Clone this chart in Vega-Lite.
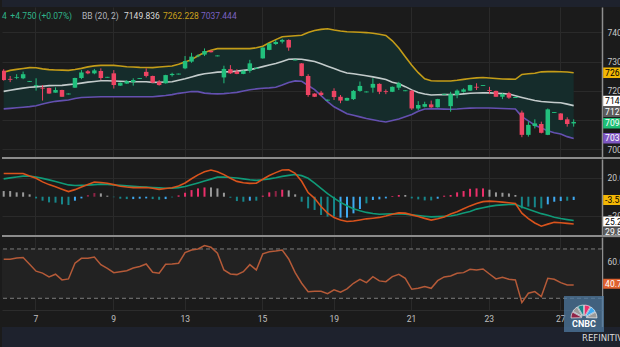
{
"$schema":"https://vega.github.io/schema/vega-lite/v6.json",
"padding":0,
"background":"#1b1b1b",
"bounds":"flush",
"spacing":0,
"config":{"view":{"stroke":null},"text":{"font":"Roboto"},"axis":{"labelFont":"Roboto"},"scale":{"continuousPadding":0}},
"datasets":{
"candles":[
{"i":0,"o":7269,"h":7274,"l":7235,"c":7237,"ub":7263.4,"mb":7198.5,"lb":7138.7,"m1":24.6,"m2":18.9,"hist":6.0,"hs":"fall","rsi":61.6},
{"i":1,"o":7241,"h":7251,"l":7230,"c":7238,"ub":7270.0,"mb":7202.5,"lb":7140.5,"m1":24.6,"m2":19.9,"hist":6.0,"hs":"fall","rsi":61.6},
{"i":2,"o":7244,"h":7257,"l":7240,"c":7247,"ub":7273.5,"mb":7206.2,"lb":7142.4,"m1":24.6,"m2":20.9,"hist":4.6,"hs":"fall","rsi":62.7},
{"i":3,"o":7243,"h":7266,"l":7240,"c":7257,"ub":7276.5,"mb":7209.5,"lb":7144.3,"m1":24.6,"m2":21.8,"hist":4.6,"hs":"fall","rsi":63.0},
{"i":4,"o":7231,"h":7234,"l":7231,"c":7234,"ub":7279.3,"mb":7212.3,"lb":7146.4,"m1":21.9,"m2":21.8,"hist":2.5,"hs":"fall","rsi":57.6},
{"i":5,"o":7217,"h":7243,"l":7201,"c":7220,"ub":7278.9,"mb":7213.9,"lb":7149.2,"m1":19.5,"m2":20.8,"hist":-1.8,"hs":"drop","rsi":52.0},
{"i":6,"o":7211,"h":7220,"l":7167,"c":7208,"ub":7275.1,"mb":7215.8,"lb":7155.1,"m1":15.7,"m2":19.4,"hist":-4.2,"hs":"drop","rsi":50.4},
{"i":7,"o":7210,"h":7211,"l":7190,"c":7191,"ub":7272.8,"mb":7217.9,"lb":7160.5,"m1":12.8,"m2":17.8,"hist":-6.0,"hs":"drop","rsi":47.3},
{"i":8,"o":7194,"h":7212,"l":7194,"c":7203,"ub":7271.3,"mb":7218.4,"lb":7164.4,"m1":10.5,"m2":16.0,"hist":-6.3,"hs":"drop","rsi":49.5},
{"i":9,"o":7203,"h":7204,"l":7180,"c":7180,"ub":7270.8,"mb":7219.0,"lb":7166.7,"m1":7.9,"m2":14.3,"hist":-8.1,"hs":"drop","rsi":44.9},
{"i":10,"o":7188,"h":7191,"l":7188,"c":7191,"ub":7270.2,"mb":7221.3,"lb":7168.8,"m1":5.4,"m2":12.5,"hist":-8.8,"hs":"drop","rsi":45.7},
{"i":11,"o":7211,"h":7245,"l":7210,"c":7244,"ub":7273.1,"mb":7223.4,"lb":7174.0,"m1":7.5,"m2":11.8,"hist":-4.2,"hs":"recover","rsi":58.4},
{"i":12,"o":7244,"h":7271,"l":7240,"c":7263,"ub":7276.9,"mb":7226.6,"lb":7177.3,"m1":10.3,"m2":12.0,"hist":-1.8,"hs":"recover","rsi":62.4},
{"i":13,"o":7267,"h":7271,"l":7257,"c":7260,"ub":7282.0,"mb":7229.9,"lb":7178.3,"m1":12.9,"m2":12.3,"hist":1.8,"hs":"rise2","rsi":62.4},
{"i":14,"o":7260,"h":7275,"l":7257,"c":7270,"ub":7285.3,"mb":7232.3,"lb":7179.2,"m1":15.5,"m2":12.8,"hist":3.9,"hs":"rise2","rsi":63.5},
{"i":15,"o":7268,"h":7277,"l":7237,"c":7244,"ub":7287.3,"mb":7234.6,"lb":7180.2,"m1":15.1,"m2":13.3,"hist":3.5,"hs":"fall","rsi":57.3},
{"i":16,"o":7245,"h":7248,"l":7245,"c":7248,"ub":7287.3,"mb":7234.5,"lb":7180.3,"m1":14.2,"m2":12.9,"hist":1.1,"hs":"fall","rsi":54.3},
{"i":17,"o":7260,"h":7271,"l":7208,"c":7220,"ub":7287.3,"mb":7233.9,"lb":7180.3,"m1":12.8,"m2":12.4,"hist":-0.5,"hs":"drop","rsi":50.8},
{"i":18,"o":7218,"h":7229,"l":7217,"c":7228,"ub":7285.0,"mb":7233.0,"lb":7180.3,"m1":11.0,"m2":12.0,"hist":-2.1,"hs":"drop","rsi":51.6},
{"i":19,"o":7225,"h":7237,"l":7224,"c":7233,"ub":7282.5,"mb":7231.9,"lb":7180.3,"m1":10.2,"m2":11.5,"hist":-2.5,"hs":"drop","rsi":52.3},
{"i":20,"o":7230,"h":7243,"l":7218,"c":7237,"ub":7281.5,"mb":7231.5,"lb":7180.3,"m1":9.6,"m2":11.0,"hist":-2.5,"hs":"recover","rsi":54.5},
{"i":21,"o":7241,"h":7244,"l":7241,"c":7244,"ub":7280.3,"mb":7231.5,"lb":7180.3,"m1":9.6,"m2":10.6,"hist":-2.1,"hs":"recover","rsi":55.8},
{"i":22,"o":7265,"h":7277,"l":7246,"c":7251,"ub":7279.8,"mb":7231.1,"lb":7180.3,"m1":9.8,"m2":10.2,"hist":-1.8,"hs":"recover","rsi":57.8},
{"i":23,"o":7251,"h":7252,"l":7227,"c":7228,"ub":7279.5,"mb":7229.2,"lb":7180.3,"m1":9.0,"m2":9.8,"hist":-2.5,"hs":"drop","rsi":51.1},
{"i":24,"o":7231,"h":7237,"l":7218,"c":7220,"ub":7281.4,"mb":7229.4,"lb":7182.1,"m1":7.8,"m2":9.4,"hist":-3.2,"hs":"drop","rsi":50.3},
{"i":25,"o":7226,"h":7255,"l":7225,"c":7254,"ub":7283.2,"mb":7230.4,"lb":7184.1,"m1":8.7,"m2":9.0,"hist":-2.5,"hs":"recover","rsi":57.6},
{"i":26,"o":7254,"h":7262,"l":7249,"c":7258,"ub":7285.1,"mb":7231.5,"lb":7187.2,"m1":9.5,"m2":9.1,"hist":-0.7,"hs":"drop","rsi":57.8},
{"i":27,"o":7256,"h":7259,"l":7256,"c":7259,"ub":7291.0,"mb":7236.6,"lb":7191.7,"m1":11.4,"m2":9.6,"hist":1.4,"hs":"rise","rsi":58.4},
{"i":28,"o":7277,"h":7319,"l":7274,"c":7302,"ub":7298.3,"mb":7241.7,"lb":7194.8,"m1":14.5,"m2":10.8,"hist":4.2,"hs":"rise","rsi":67.0},
{"i":29,"o":7300,"h":7330,"l":7296,"c":7317,"ub":7306.7,"mb":7247.7,"lb":7198.2,"m1":19.0,"m2":12.7,"hist":7.0,"hs":"rise","rsi":69.2},
{"i":30,"o":7318,"h":7325,"l":7315,"c":7321,"ub":7320.0,"mb":7253.8,"lb":7197.5,"m1":23.1,"m2":14.6,"hist":8.8,"hs":"rise","rsi":70.0},
{"i":31,"o":7324,"h":7345,"l":7319,"c":7336,"ub":7331.2,"mb":7258.7,"lb":7192.4,"m1":26.4,"m2":16.6,"hist":9.8,"hs":"rise","rsi":72.7},
{"i":32,"o":7337,"h":7338,"l":7331,"c":7332,"ub":7339.0,"mb":7261.3,"lb":7190.8,"m1":28.2,"m2":18.6,"hist":9.8,"hs":"fall","rsi":71.4},
{"i":33,"o":7318,"h":7321,"l":7318,"c":7321,"ub":7344.2,"mb":7264.2,"lb":7189.7,"m1":26.4,"m2":20.7,"hist":8.8,"hs":"fall","rsi":66.5},
{"i":34,"o":7246,"h":7286,"l":7226,"c":7275,"ub":7344.2,"mb":7265.0,"lb":7190.8,"m1":23.4,"m2":20.9,"hist":4.2,"hs":"fall","rsi":53.0},
{"i":35,"o":7274,"h":7288,"l":7258,"c":7260,"ub":7344.2,"mb":7265.5,"lb":7192.6,"m1":19.5,"m2":20.3,"hist":-1.1,"hs":"drop","rsi":49.7},
{"i":36,"o":7266,"h":7274,"l":7257,"c":7258,"ub":7344.2,"mb":7267.6,"lb":7195.1,"m1":16.2,"m2":19.8,"hist":-4.6,"hs":"drop","rsi":49.2},
{"i":37,"o":7258,"h":7270,"l":7257,"c":7269,"ub":7344.2,"mb":7270.2,"lb":7199.4,"m1":14.8,"m2":18.9,"hist":-5.3,"hs":"drop","rsi":51.6},
{"i":38,"o":7269,"h":7306,"l":7262,"c":7294,"ub":7344.2,"mb":7272.7,"lb":7203.9,"m1":14.1,"m2":18.0,"hist":-4.2,"hs":"recover","rsi":57.3},
{"i":39,"o":7276,"h":7279,"l":7276,"c":7279,"ub":7347.1,"mb":7277.3,"lb":7206.8,"m1":14.3,"m2":17.3,"hist":-4.2,"hs":"drop","rsi":53.0},
{"i":40,"o":7311,"h":7349,"l":7310,"c":7348,"ub":7352.5,"mb":7282.8,"lb":7209.0,"m1":18.5,"m2":18.0,"hist":1.1,"hs":"rise","rsi":66.0},
{"i":41,"o":7340,"h":7363,"l":7339,"c":7362,"ub":7364.3,"mb":7288.3,"lb":7210.5,"m1":22.4,"m2":18.9,"hist":4.6,"hs":"rise","rsi":67.8},
{"i":42,"o":7360,"h":7374,"l":7357,"c":7367,"ub":7375.1,"mb":7293.5,"lb":7212.6,"m1":25.5,"m2":20.1,"hist":6.0,"hs":"rise2","rsi":68.4},
{"i":43,"o":7368,"h":7378,"l":7362,"c":7374,"ub":7385.1,"mb":7300.4,"lb":7220.1,"m1":28.3,"m2":21.5,"hist":7.4,"hs":"rise","rsi":69.2},
{"i":44,"o":7374,"h":7376,"l":7337,"c":7348,"ub":7386.6,"mb":7307.8,"lb":7228.8,"m1":28.5,"m2":22.6,"hist":6.7,"hs":"fall","rsi":61.9},
{"i":45,"o":7304,"h":7307,"l":7304,"c":7307,"ub":7388.5,"mb":7308.9,"lb":7234.1,"m1":24.7,"m2":23.5,"hist":2.5,"hs":"fall","rsi":50.8},
{"i":46,"o":7294,"h":7295,"l":7250,"c":7251,"ub":7390.2,"mb":7308.3,"lb":7232.7,"m1":16.3,"m2":22.3,"hist":-5.3,"hs":"drop","rsi":42.2},
{"i":47,"o":7251,"h":7257,"l":7180,"c":7186,"ub":7399.1,"mb":7304.1,"lb":7218.6,"m1":4.4,"m2":19.5,"hist":-12.3,"hs":"drop","rsi":35.4},
{"i":48,"o":7191,"h":7192,"l":7179,"c":7180,"ub":7406.0,"mb":7300.2,"lb":7204.6,"m1":-1.7,"m2":14.3,"hist":-14.0,"hs":"drop","rsi":35.7},
{"i":49,"o":7194,"h":7200,"l":7183,"c":7186,"ub":7409.9,"mb":7292.5,"lb":7184.0,"m1":-10.4,"m2":8.8,"hist":-19.3,"hs":"drop","rsi":35.7},
{"i":50,"o":7167,"h":7170,"l":7167,"c":7170,"ub":7412.1,"mb":7284.3,"lb":7163.7,"m1":-17.3,"m2":3.2,"hist":-21.1,"hs":"drop","rsi":33.8},
{"i":51,"o":7200,"h":7209,"l":7169,"c":7179,"ub":7408.0,"mb":7276.1,"lb":7145.9,"m1":-21.9,"m2":-1.5,"hist":-21.1,"hs":"drop","rsi":36.8},
{"i":52,"o":7180,"h":7186,"l":7158,"c":7167,"ub":7404.7,"mb":7268.2,"lb":7134.0,"m1":-24.6,"m2":-6.0,"hist":-22.1,"hs":"recover","rsi":34.9},
{"i":53,"o":7167,"h":7177,"l":7166,"c":7176,"ub":7402.0,"mb":7261.4,"lb":7122.1,"m1":-26.2,"m2":-9.6,"hist":-22.1,"hs":"recover","rsi":37.6},
{"i":54,"o":7172,"h":7203,"l":7169,"c":7200,"ub":7401.0,"mb":7258.3,"lb":7116.7,"m1":-25.7,"m2":-12.7,"hist":-17.6,"hs":"recover","rsi":42.2},
{"i":55,"o":7200,"h":7232,"l":7197,"c":7217,"ub":7400.0,"mb":7255.1,"lb":7111.4,"m1":-24.6,"m2":-14.9,"hist":-13.0,"hs":"recover","rsi":45.4},
{"i":56,"o":7195,"h":7198,"l":7195,"c":7198,"ub":7399.1,"mb":7251.9,"lb":7106.0,"m1":-23.4,"m2":-16.6,"hist":-7.0,"hs":"drop","rsi":42.7},
{"i":57,"o":7211,"h":7243,"l":7194,"c":7224,"ub":7396.7,"mb":7248.0,"lb":7101.5,"m1":-22.7,"m2":-17.7,"hist":-3.5,"hs":"recover","rsi":47.6},
{"i":58,"o":7224,"h":7226,"l":7189,"c":7197,"ub":7393.6,"mb":7243.6,"lb":7097.5,"m1":-21.9,"m2":-18.5,"hist":-2.8,"hs":"recover","rsi":44.1},
{"i":59,"o":7199,"h":7205,"l":7189,"c":7196,"ub":7389.3,"mb":7239.1,"lb":7094.1,"m1":-20.3,"m2":-18.3,"hist":-1.8,"hs":"recover","rsi":43.5},
{"i":60,"o":7197,"h":7215,"l":7196,"c":7214,"ub":7370.9,"mb":7229.8,"lb":7099.0,"m1":-18.5,"m2":-18.1,"hist":0.7,"hs":"rise","rsi":47.6},
{"i":61,"o":7211,"h":7231,"l":7203,"c":7226,"ub":7346.4,"mb":7224.2,"lb":7104.2,"m1":-17.1,"m2":-17.9,"hist":1.8,"hs":"rise","rsi":49.5},
{"i":62,"o":7199,"h":7202,"l":7199,"c":7202,"ub":7316.9,"mb":7214.5,"lb":7112.1,"m1":-17.4,"m2":-18.6,"hist":1.8,"hs":"fall","rsi":46.2},
{"i":63,"o":7201,"h":7203,"l":7135,"c":7140,"ub":7287.7,"mb":7203.5,"lb":7119.7,"m1":-19.2,"m2":-19.2,"hist":-1.8,"hs":"drop","rsi":37.3},
{"i":64,"o":7140,"h":7165,"l":7135,"c":7152,"ub":7262.2,"mb":7194.8,"lb":7130.6,"m1":-21.0,"m2":-19.9,"hist":-2.8,"hs":"drop","rsi":38.1},
{"i":65,"o":7146,"h":7163,"l":7144,"c":7155,"ub":7241.3,"mb":7189.2,"lb":7138.0,"m1":-22.9,"m2":-20.6,"hist":-3.9,"hs":"drop","rsi":39.5},
{"i":66,"o":7154,"h":7167,"l":7142,"c":7144,"ub":7234.5,"mb":7186.2,"lb":7139.1,"m1":-24.7,"m2":-21.3,"hist":-3.9,"hs":"drop","rsi":38.1},
{"i":67,"o":7144,"h":7173,"l":7143,"c":7172,"ub":7233.8,"mb":7186.8,"lb":7138.5,"m1":-23.3,"m2":-21.1,"hist":-2.1,"hs":"recover","rsi":44.3},
{"i":68,"o":7187,"h":7190,"l":7187,"c":7190,"ub":7233.8,"mb":7187.8,"lb":7137.9,"m1":-21.4,"m2":-20.8,"hist":1.1,"hs":"rise","rsi":47.3},
{"i":69,"o":7148,"h":7197,"l":7129,"c":7189,"ub":7233.8,"mb":7187.2,"lb":7137.2,"m1":-18.4,"m2":-20.4,"hist":1.8,"hs":"rise","rsi":48.1},
{"i":70,"o":7186,"h":7205,"l":7175,"c":7201,"ub":7236.2,"mb":7187.7,"lb":7138.2,"m1":-15.8,"m2":-19.0,"hist":4.6,"hs":"rise","rsi":50.3},
{"i":71,"o":7197,"h":7209,"l":7194,"c":7205,"ub":7239.4,"mb":7190.0,"lb":7139.7,"m1":-12.8,"m2":-17.3,"hist":6.0,"hs":"rise","rsi":50.8},
{"i":72,"o":7201,"h":7221,"l":7200,"c":7220,"ub":7242.1,"mb":7191.8,"lb":7141.2,"m1":-9.7,"m2":-15.6,"hist":8.4,"hs":"rise","rsi":53.5},
{"i":73,"o":7214,"h":7226,"l":7203,"c":7211,"ub":7244.4,"mb":7193.0,"lb":7141.6,"m1":-7.2,"m2":-13.1,"hist":8.8,"hs":"rise","rsi":53.0},
{"i":74,"o":7217,"h":7220,"l":7217,"c":7220,"ub":7246.0,"mb":7193.6,"lb":7141.6,"m1":-5.2,"m2":-11.6,"hist":8.8,"hs":"rise","rsi":53.8},
{"i":75,"o":7203,"h":7214,"l":7189,"c":7200,"ub":7244.2,"mb":7193.2,"lb":7141.5,"m1":-4.7,"m2":-10.2,"hist":7.4,"hs":"fall","rsi":49.7},
{"i":76,"o":7200,"h":7201,"l":7180,"c":7180,"ub":7242.3,"mb":7191.9,"lb":7140.7,"m1":-5.0,"m2":-9.2,"hist":4.6,"hs":"fall","rsi":45.7},
{"i":77,"o":7180,"h":7192,"l":7172,"c":7189,"ub":7240.6,"mb":7190.7,"lb":7139.9,"m1":-5.7,"m2":-8.6,"hist":4.2,"hs":"fall","rsi":47.0},
{"i":78,"o":7192,"h":7197,"l":7173,"c":7177,"ub":7240.1,"mb":7189.2,"lb":7139.0,"m1":-6.4,"m2":-8.3,"hist":3.5,"hs":"fall","rsi":45.4},
{"i":79,"o":7176,"h":7179,"l":7176,"c":7179,"ub":7239.7,"mb":7183.3,"lb":7138.2,"m1":-7.2,"m2":-8.0,"hist":1.8,"hs":"fall","rsi":44.9},
{"i":80,"o":7126,"h":7133,"l":7042,"c":7050,"ub":7256.3,"mb":7177.6,"lb":7112.4,"m1":-17.4,"m2":-10.9,"hist":-12.3,"hs":"drop","rsi":26.5},
{"i":81,"o":7050,"h":7095,"l":7044,"c":7084,"ub":7258.4,"mb":7172.1,"lb":7097.7,"m1":-23.1,"m2":-13.3,"hist":-10.5,"hs":"drop","rsi":34.1},
{"i":82,"o":7080,"h":7103,"l":7072,"c":7089,"ub":7260.0,"mb":7167.4,"lb":7082.7,"m1":-27.8,"m2":-15.6,"hist":-11.2,"hs":"drop","rsi":35.4},
{"i":83,"o":7087,"h":7095,"l":7055,"c":7057,"ub":7265.1,"mb":7163.6,"lb":7073.4,"m1":-31.2,"m2":-17.9,"hist":-12.3,"hs":"drop","rsi":31.4},
{"i":84,"o":7050,"h":7140,"l":7049,"c":7137,"ub":7265.7,"mb":7162.1,"lb":7064.3,"m1":-29.0,"m2":-19.7,"hist":-8.1,"hs":"recover","rsi":46.2},
{"i":85,"o":7125,"h":7128,"l":7125,"c":7128,"ub":7265.7,"mb":7160.6,"lb":7057.1,"m1":-27.1,"m2":-21.7,"hist":-5.3,"hs":"recover","rsi":45.4},
{"i":86,"o":7123,"h":7124,"l":7100,"c":7101,"ub":7265.4,"mb":7159.4,"lb":7052.7,"m1":-27.6,"m2":-23.1,"hist":-4.6,"hs":"recover","rsi":42.7},
{"i":87,"o":7103,"h":7110,"l":7078,"c":7087,"ub":7264.5,"mb":7154.8,"lb":7043.9,"m1":-28.2,"m2":-24.2,"hist":-4.2,"hs":"drop","rsi":40.8},
{"i":88,"o":7089,"h":7103,"l":7078,"c":7094,"ub":7262.2,"mb":7149.8,"lb":7037.4,"m1":-28.8,"m2":-25.2,"hist":-3.5,"hs":"recover","rsi":40.7}
],
"plabels":[
{"k":"upper","txt":"7262.228","at":7262.2},
{"k":"mid","txt":"7149.836","at":7165.5},
{"k":"prev","txt":"7127.370","at":7129.0},
{"k":"last","txt":"7094.220","at":7090.0},
{"k":"lower","txt":"7037.444","at":7038.0}
],
"mlabels":[
{"k":"hist","txt":"-3.534","at":-3.5},
{"k":"sig","txt":"25.21","at":-26.3},
{"k":"macd","txt":"29.80","at":-37.7}
],
"rlabels":[
{"k":"rsi","txt":"40.76","at":41.8}
],
"feathers":[
{"f":"yellow","n":1},{"f":"orange","n":1},{"f":"red","n":1},{"f":"purple","n":1},{"f":"blue","n":1},{"f":"green","n":1}
]
},
"vconcat":[
{"width":620,"height":7,"view":{"fill":"#1e222d","stroke":null},"data":{"values":[{}]},"mark":{"type":"point","opacity":0}},
{
"width":600,"height":150,
"layer":[
{"data":{"name":"candles"},"mark":{"type":"area","color":"#152c2b"},
 "encoding":{
  "x":{"field":"i","type":"quantitative","scale":{"domain":[-0.262,92.37],"nice":false,"zero":false,"padding":0},
       "axis":{"values":[4.88,16.88,27.95,39.88,50.95,62.88,74.88,85.93],"tickCount":30,"grid":true,"gridColor":"#2a2a2a","labels":false,"ticks":false,"domain":false,"title":null}},
  "y":{"field":"lb","type":"quantitative","scale":{"domain":[6974.4,7486.4],"nice":false,"zero":false,"padding":0},
       "axis":{"orient":"right","values":[7000,7100,7200,7300,7400],"tickCount":30,"labelExpr":"datum.value==7100?'':format(datum.value,'d')","grid":true,"gridColor":"#2a2a2a","ticks":false,"labels":true,"labelOverlap":false,"domain":true,"domainColor":"#8f8f8f","domainWidth":1.5,"labelColor":"#c8c8c8","labelFontSize":8.5,"labelPadding":5,"title":null}},
  "y2":{"field":"ub"}}},
{"data":{"name":"candles"},"mark":{"type":"line","color":"#c49c18","strokeWidth":1.6},
 "encoding":{"x":{"field":"i","type":"quantitative"},"y":{"field":"ub","type":"quantitative"}}},
{"data":{"name":"candles"},"mark":{"type":"line","color":"#c3cbcb","strokeWidth":1.6},
 "encoding":{"x":{"field":"i","type":"quantitative"},"y":{"field":"mb","type":"quantitative"}}},
{"data":{"name":"candles"},"mark":{"type":"line","color":"#6450b0","strokeWidth":1.6},
 "encoding":{"x":{"field":"i","type":"quantitative"},"y":{"field":"lb","type":"quantitative"}}},
{"data":{"name":"candles"},"mark":{"type":"rule","strokeWidth":1,"clip":true},
 "encoding":{"x":{"field":"i","type":"quantitative"},
  "y":{"field":"l","type":"quantitative"},
  "y2":{"field":"h"},
  "color":{"condition":{"test":"datum.c >= datum.o","value":"#22c07d"},"value":"#ee4463"}}},
{"data":{"name":"candles"},"mark":{"type":"bar","width":4.5,"clip":true},
 "encoding":{"x":{"field":"i","type":"quantitative"},
  "y":{"field":"o","type":"quantitative"},
  "y2":{"field":"c"},
  "color":{"condition":{"test":"datum.c >= datum.o","value":"#22c07d"},"value":"#ee4463"}}},
{"data":{"values":[{}]},"mark":{"type":"text","text":"4","align":"left","baseline":"middle","fontSize":8.5,"color":"#2fb48a"},
 "encoding":{"x":{"datum":-0.262,"type":"quantitative"},"y":{"datum":7455.6,"type":"quantitative"}}},
{"data":{"values":[{}]},"mark":{"type":"text","text":"+4.750 (+0.07%)","align":"left","baseline":"middle","fontSize":8.5,"color":"#2fb48a"},
 "encoding":{"x":{"datum":1.02,"type":"quantitative"},"y":{"datum":7455.6,"type":"quantitative"}}},
{"data":{"values":[{}]},"mark":{"type":"text","text":"BB (20, 2)","align":"left","baseline":"middle","fontSize":8.5,"color":"#b2b5be"},
 "encoding":{"x":{"datum":12.09,"type":"quantitative"},"y":{"datum":7455.6,"type":"quantitative"}}},
{"data":{"values":[{}]},"mark":{"type":"text","text":"7149.836","align":"left","baseline":"middle","fontSize":8.5,"color":"#d8d8d8"},
 "encoding":{"x":{"datum":18.58,"type":"quantitative"},"y":{"datum":7455.6,"type":"quantitative"}}},
{"data":{"values":[{}]},"mark":{"type":"text","text":"7262.228","align":"left","baseline":"middle","fontSize":8.5,"color":"#c9a01c"},
 "encoding":{"x":{"datum":24.6,"type":"quantitative"},"y":{"datum":7455.6,"type":"quantitative"}}},
{"data":{"values":[{}]},"mark":{"type":"text","text":"7037.444","align":"left","baseline":"middle","fontSize":8.5,"color":"#7a62c2"},
 "encoding":{"x":{"datum":30.46,"type":"quantitative"},"y":{"datum":7455.6,"type":"quantitative"}}},
{"data":{"name":"plabels"},"mark":{"type":"rule","strokeWidth":10.5,"strokeCap":"butt"},
 "encoding":{"x":{"datum":92.55,"type":"quantitative"},"x2":{"datum":97.5},
  "y":{"field":"at","type":"quantitative"},
  "stroke":{"field":"k","type":"nominal","scale":{"domain":["upper","mid","prev","last","lower"],"range":["#f2b705","#ffffff","#5c5c5c","#1fbf76","#7e57c2"]},"legend":null}}},
{"data":{"name":"plabels"},"mark":{"type":"text","align":"left","baseline":"middle","fontSize":8.5},
 "encoding":{"x":{"datum":92.85,"type":"quantitative"},
  "y":{"field":"at","type":"quantitative"},
  "text":{"field":"txt"},
  "fill":{"field":"k","type":"nominal","scale":{"domain":["upper","mid","prev","last","lower"],"range":["#000000","#000000","#ffffff","#ffffff","#ffffff"]},"legend":null}}}
]
},
{"width":620,"height":2,"view":{"fill":"#8c8c8c","stroke":null},"data":{"values":[{}]},"mark":{"type":"point","opacity":0}},
{
"width":600,"height":76,
"layer":[
{"data":{"name":"candles"},"mark":{"type":"bar","width":2},
 "encoding":{
  "x":{"field":"i","type":"quantitative","scale":{"domain":[-0.262,92.37],"nice":false,"zero":false,"padding":0},
       "axis":{"values":[4.88,16.88,27.95,39.88,50.95,62.88,74.88,85.93],"tickCount":30,"grid":true,"gridColor":"#2a2a2a","labels":false,"ticks":false,"domain":false,"title":null}},
  "y":{"field":"hist","type":"quantitative","scale":{"domain":[-40.5,39.9],"nice":false,"zero":false,"padding":0},
       "axis":{"orient":"right","values":[20,-20],"tickCount":30,"format":".1f","grid":true,"gridColor":"#2a2a2a","ticks":false,"labels":true,"labelOverlap":false,"domain":true,"domainColor":"#8f8f8f","domainWidth":1.5,"labelColor":"#c8c8c8","labelFontSize":8.5,"labelPadding":5,"title":null}},
  "y2":{"datum":0},
  "color":{"field":"hs","type":"nominal","scale":{"domain":["fall","drop","recover","rise","rise2"],"range":["#9a9a9a","#17868a","#3fa9f0","#ea2f6a","#8e2446"]},"legend":null}}},
{"data":{"name":"candles"},"mark":{"type":"line","color":"#109a78","strokeWidth":1.6},
 "encoding":{"x":{"field":"i","type":"quantitative"},"y":{"field":"m2","type":"quantitative"}}},
{"data":{"name":"candles"},"mark":{"type":"line","color":"#d9531c","strokeWidth":1.6},
 "encoding":{"x":{"field":"i","type":"quantitative"},"y":{"field":"m1","type":"quantitative"}}},
{"data":{"name":"mlabels"},"mark":{"type":"rule","strokeWidth":10,"strokeCap":"butt"},
 "encoding":{"x":{"datum":92.55,"type":"quantitative"},"x2":{"datum":97.5},
  "y":{"field":"at","type":"quantitative"},
  "stroke":{"field":"k","type":"nominal","scale":{"domain":["hist","sig","macd"],"range":["#42b0f5","#12b888","#f25a17"]},"legend":null}}},
{"data":{"name":"mlabels"},"mark":{"type":"text","align":"left","baseline":"middle","fontSize":8.5},
 "encoding":{"x":{"datum":92.85,"type":"quantitative"},
  "y":{"field":"at","type":"quantitative"},
  "text":{"field":"txt"},
  "fill":{"field":"k","type":"nominal","scale":{"domain":["hist","sig","macd"],"range":["#000000","#ffffff","#ffffff"]},"legend":null}}}
]
},
{"width":620,"height":2,"view":{"fill":"#8c8c8c","stroke":null},"data":{"values":[{}]},"mark":{"type":"point","opacity":0}},
{
"width":600,"height":73,
"layer":[
{"data":{"name":"candles"},"mark":{"type":"line","color":"#b55a38","strokeWidth":1.5,"opacity":0},
 "encoding":{
  "x":{"field":"i","type":"quantitative","scale":{"domain":[-0.262,92.37],"nice":false,"zero":false,"padding":0},
       "axis":{"values":[4.88,16.88,27.95,39.88,50.95,62.88,74.88,85.93],"tickCount":30,"labelExpr":"datum.value<10?'7':datum.value<20?'9':datum.value<33?'13':datum.value<45?'15':datum.value<56?'19':datum.value<68?'21':datum.value<80?'23':'27'","grid":true,"gridColor":"#2a2a2a","ticks":false,"labels":true,"labelOverlap":false,"labelFlush":false,"domain":true,"domainColor":"#2c2c2c","labelColor":"#c0c0c0","labelFontSize":8.5,"labelPadding":4,"title":null}},
  "y":{"field":"rsi","type":"quantitative","scale":{"domain":[20.5,79.7],"nice":false,"zero":false,"padding":0},
       "axis":{"orient":"right","values":[60,40],"tickCount":30,"labelExpr":"datum.value==40?'':format(datum.value,'.1f')","grid":true,"gridColor":"#2c2c2c","ticks":false,"labels":true,"labelOverlap":false,"domain":true,"domainColor":"#8f8f8f","domainWidth":1.5,"labelColor":"#c8c8c8","labelFontSize":8.5,"labelPadding":5,"title":null}}}},
{"data":{"values":[{}]},"mark":{"type":"rect","color":"#222222"},
 "encoding":{"y":{"datum":70,"type":"quantitative"},"y2":{"datum":30}}},
{"data":{"values":[{"v":70},{"v":30}]},"mark":{"type":"rule","color":"#7c7c7c","strokeDash":[4,3],"strokeWidth":1},
 "encoding":{"y":{"field":"v","type":"quantitative"}}},
{"data":{"name":"candles"},"mark":{"type":"line","color":"#b55a38","strokeWidth":1.5},
 "encoding":{"x":{"field":"i","type":"quantitative"},"y":{"field":"rsi","type":"quantitative"}}},
{"data":{"name":"rlabels"},"mark":{"type":"rule","strokeWidth":10,"strokeCap":"butt","color":"#e0622f"},
 "encoding":{"x":{"datum":92.55,"type":"quantitative"},"x2":{"datum":97.5},
  "y":{"field":"at","type":"quantitative"}}},
{"data":{"name":"rlabels"},"mark":{"type":"text","align":"left","baseline":"middle","fontSize":8.5,"color":"#ffffff"},
 "encoding":{"x":{"datum":92.85,"type":"quantitative"},
  "y":{"field":"at","type":"quantitative"},
  "text":{"field":"txt"}}}
]
},
{"width":600,"height":17,"data":{"values":[{}]},"mark":{"type":"point","opacity":0},
 "encoding":{"y":{"datum":0,"type":"quantitative","axis":{"orient":"right","domain":true,"domainColor":"#8f8f8f","domainWidth":1.5,"labels":false,"ticks":false,"grid":false,"title":null}}}},
{
"width":620,"height":20,"view":{"fill":"#1e222d","stroke":null},
"layer":[
{"data":{"values":[{}]},"mark":{"type":"rect","color":"#4f7aa0","opacity":0.75},
 "encoding":{"x":{"datum":562,"type":"quantitative","scale":{"domain":[0,620],"nice":false,"zero":false,"padding":0},"axis":null},"x2":{"datum":602},
  "y":{"datum":0.75,"type":"quantitative","scale":{"domain":[0,1],"nice":false,"zero":false,"padding":0},"axis":null},"y2":{"datum":2.55}}},
{"data":{"name":"feathers"},"mark":{"type":"arc","radius":13,"radius2":2.5,"padAngle":0.06,"stroke":"#ffffff","strokeWidth":0.6},
 "encoding":{"x":{"datum":582,"type":"quantitative","axis":null},
  "y":{"datum":1.45,"type":"quantitative","axis":null},
  "theta":{"field":"n","type":"quantitative","scale":{"range":[-1.6,1.6]}},
  "order":{"field":"f","sort":"ascending"},
  "color":{"field":"f","type":"nominal","sort":["yellow","orange","red","purple","blue","green"],"scale":{"domain":["yellow","orange","red","purple","blue","green"],"range":["#fcb711","#f37021","#cc004c","#6460aa","#0089d0","#0db14b"]},"legend":null}}},
{"data":{"values":[{}]},"mark":{"type":"text","text":"CNBC","fontSize":9,"fontWeight":"bold","color":"#ffffff","align":"center","baseline":"middle"},
 "encoding":{"x":{"datum":582,"type":"quantitative","axis":null},
  "y":{"datum":1.17,"type":"quantitative","axis":null}}},
{"data":{"values":[{}]},"mark":{"type":"text","text":"REFINITIV","fontSize":8.5,"font":"DejaVu Sans","color":"#dcdcdc","align":"left","baseline":"middle"},
 "encoding":{"x":{"datum":580,"type":"quantitative","axis":null},
  "y":{"datum":0.45,"type":"quantitative","axis":null}}}
]
}
]
}
